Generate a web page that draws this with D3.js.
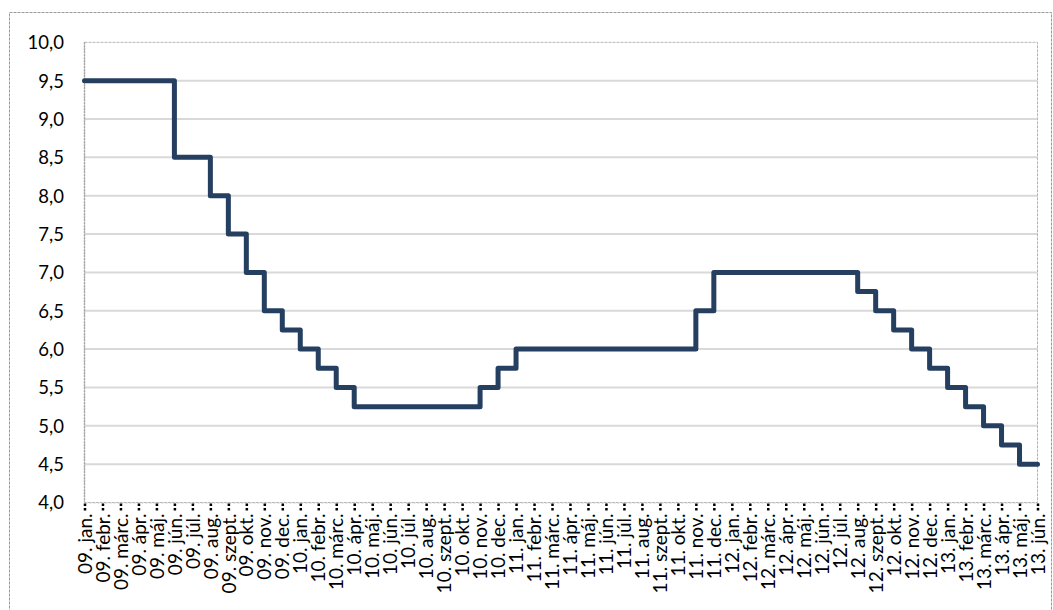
<!DOCTYPE html>
<html><head><meta charset="utf-8">
<script src="https://cdn.jsdelivr.net/npm/d3@7"></script>
<style>html,body{margin:0;padding:0;background:#fff;} svg{display:block;}</style>
</head><body>
<svg id="chart" width="1053" height="610"></svg>
<script>
const months = ["09. jan.","09. febr.","09. márc.","09. ápr.","09. máj.","09. jún.","09. júl.","09. aug.","09. szept.","09. okt.","09. nov.","09. dec.",
"10. jan.","10. febr.","10. márc.","10. ápr.","10. máj.","10. jún.","10. júl.","10. aug.","10. szept.","10. okt.","10. nov.","10. dec.",
"11. jan.","11. febr.","11. márc.","11. ápr.","11. máj.","11. jún.","11. júl.","11. aug.","11. szept.","11. okt.","11. nov.","11. dec.",
"12. jan.","12. febr.","12. márc.","12. ápr.","12. máj.","12. jún.","12. júl.","12. aug.","12. szept.","12. okt.","12. nov.","12. dec.",
"13. jan.","13. febr.","13. márc.","13. ápr.","13. máj.","13. jún."];
const rates = [9.5,9.5,9.5,9.5,9.5,8.5,8.5,8.0,7.5,7.0,6.5,6.25,
6.0,5.75,5.5,5.25,5.25,5.25,5.25,5.25,5.25,5.25,5.5,5.75,
6.0,6.0,6.0,6.0,6.0,6.0,6.0,6.0,6.0,6.0,6.5,7.0,
7.0,7.0,7.0,7.0,7.0,7.0,7.0,6.75,6.5,6.25,6.0,5.75,
5.5,5.25,5.0,4.75,4.5,4.5];
const yTicks = [4.0,4.5,5.0,5.5,6.0,6.5,7.0,7.5,8.0,8.5,9.0,9.5,10.0];

const svg = d3.select("#chart");
const L = 84.5, R = 1037.5, T = 42.3, B = 502.5;
const x = d3.scalePoint().domain(months).range([L, R]);
const y = d3.scaleLinear().domain([4, 10]).range([B, T]);
const font = "Lato, 'Open Sans', sans-serif";

svg.append("rect").attr("width",1053).attr("height",610).attr("fill","#fff");
// outer chart border
svg.append("rect").attr("x",9.5).attr("y",12.5).attr("width",1042).attr("height",620)
  .attr("fill","none").attr("stroke","#9a9a9a").attr("stroke-width",1).attr("stroke-dasharray","3,1");

// gridlines
svg.append("g").selectAll("line").data(yTicks.filter(v => v > 4 && v < 10)).join("line")
  .attr("x1", L).attr("x2", R).attr("y1", d => y(d)).attr("y2", d => y(d))
  .attr("stroke","#d9d9d9").attr("stroke-width",2);

// plot area border
svg.append("rect").attr("x",L).attr("y",T).attr("width",R-L).attr("height",B-T)
  .attr("fill","none").attr("stroke","#b5b5b5").attr("stroke-width",1).attr("stroke-dasharray","3,1");
svg.append("line").attr("x1",L).attr("x2",L).attr("y1",T).attr("y2",B)
  .attr("stroke","#a6a6a6").attr("stroke-width",1.5).attr("stroke-dasharray","2,1");

// y axis
const yAxis = svg.append("g").attr("transform",`translate(${L},0)`)
  .call(d3.axisLeft(y).tickValues(yTicks).tickSize(0).tickPadding(20)
    .tickFormat(d => d3.format(".1f")(d).replace(".", ",")));
yAxis.select(".domain").remove();
yAxis.selectAll("text").attr("font-family",font).attr("font-size","18.5px").attr("fill","#000")
  .attr("x", 64 - L).attr("dy","0.35em");

// x axis
const xAxis = svg.append("g").attr("transform",`translate(0,${B})`)
  .call(d3.axisBottom(x).tickSize(8).tickPadding(0));
xAxis.select(".domain").attr("stroke","#c8c8c8").attr("stroke-dasharray","2,2");
xAxis.selectAll(".tick line").attr("stroke","#000").attr("stroke-width",2.5).attr("stroke-dasharray","2.5,2").attr("y1",1);
xAxis.selectAll("text").attr("font-family",font).attr("font-size","19px").attr("fill","#000")
  .attr("transform","rotate(-90)").attr("text-anchor","end").attr("x",-11).attr("y",0).attr("dy","0.35em");

// step line
const line = d3.line().x((d,i) => x(months[i])).y(d => y(d)).curve(d3.curveStepAfter);
svg.append("path").datum(rates).attr("d", line).attr("fill","none")
  .attr("stroke","#243f60").attr("stroke-width",5).attr("stroke-linejoin","round").attr("stroke-linecap","round");
</script>
</body></html>
